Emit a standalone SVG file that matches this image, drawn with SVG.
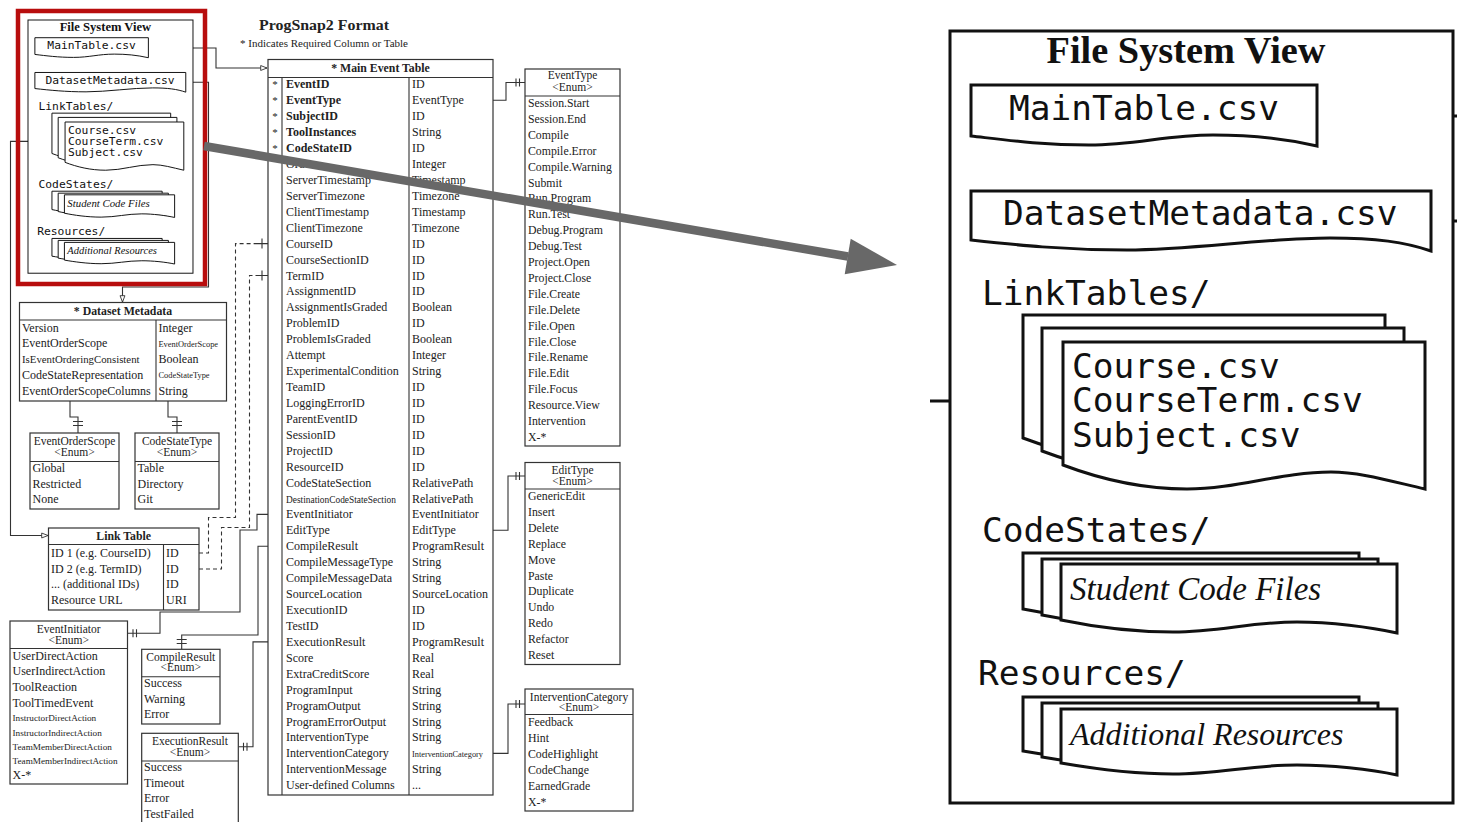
<svg xmlns="http://www.w3.org/2000/svg" xmlns:xlink="http://www.w3.org/1999/xlink" width="1457" height="822" viewBox="0 0 1457 822">
  <style>
    .ln{fill:none;stroke:#333;stroke-width:1.1}
    .dash{fill:none;stroke:#333;stroke-width:1.1;stroke-dasharray:4 3}
    .box{fill:#fff;stroke:#333;stroke-width:1.2}
    .sep{fill:none;stroke:#333;stroke-width:1.1}
    .t{font-family:"Liberation Serif","Times New Roman",serif;font-size:12px;fill:#222}
    .b{font-weight:bold}
    .hd{font-size:11.5px}
    .mid{text-anchor:middle}
    .fs{fill:#fff;stroke:#111;stroke-width:3}
    .mono{font-family:"DejaVu Sans Mono","Liberation Mono",monospace;font-size:34.5px;fill:#111}
    .it{font-family:"Liberation Serif","Times New Roman",serif;font-style:italic;font-size:33px;fill:#111}
  </style>
  <defs>
    <marker id="open-tri" viewBox="0 0 10 10" refX="10" refY="5" markerWidth="7" markerHeight="7" orient="auto" markerUnits="userSpaceOnUse">
      <path d="M1,1.5 L10,5 L1,8.5 Z" fill="#fff" stroke="#333" stroke-width="1.3"/>
    </marker>
    <!-- file system view artwork, drawn in its own local frame -->
    <g id="fsv-art">
      <rect class="fs" x="0" y="0" width="503" height="772"/>
      <text x="236" y="32" text-anchor="middle" textLength="279" lengthAdjust="spacingAndGlyphs" style="font-family:'Liberation Serif','Times New Roman',serif;font-weight:bold;font-size:37px;fill:#111">File System View</text>
      <path class="fs" d="M21,54 H367 V115 C332,107 298,104 263,104 C215,104 187,114 139,114 C91,114 56,109 21,105 Z"/>
      <text class="mono" x="59" y="89">MainTable.csv</text>
      <path class="fs" d="M21,160 H481 V220 C455,211 426,207 380,207 C316,207 241,219 177,219 C113,219 67,214 21,209 Z"/>
      <text class="mono" x="53" y="194">DatasetMetadata.csv</text>
      <text class="mono" x="32" y="274">LinkTables/</text>
      <path class="fs" transform="translate(-40,-27)" d="M113,311 H475 V458 C440,450 410,441 381,441 C330,441 288,458 237,458 C190,458 150,448 113,434 Z"/>
      <path class="fs" transform="translate(-21,-14)" d="M113,311 H475 V458 C440,450 410,441 381,441 C330,441 288,458 237,458 C190,458 150,448 113,434 Z"/>
      <path class="fs" d="M113,311 H475 V458 C440,450 410,441 381,441 C330,441 288,458 237,458 C190,458 150,448 113,434 Z"/>
      <text class="mono" x="122" y="347">Course.csv</text>
      <text class="mono" x="122" y="381">CourseTerm.csv</text>
      <text class="mono" x="122" y="416">Subject.csv</text>
      <text class="mono" x="32" y="511">CodeStates/</text>
      <path class="fs" transform="translate(-38,-11)" d="M111,533 H447 V602 C420,596 380,591 347,591 C300,591 270,601 223,601 C180,601 140,595 111,589 Z"/>
      <path class="fs" transform="translate(-19,-5)" d="M111,533 H447 V602 C420,596 380,591 347,591 C300,591 270,601 223,601 C180,601 140,595 111,589 Z"/>
      <path class="fs" d="M111,533 H447 V602 C420,596 380,591 347,591 C300,591 270,601 223,601 C180,601 140,595 111,589 Z"/>
      <text class="it" x="120" y="569">Student Code Files</text>
      <text class="mono" x="28" y="654">Resources/</text>
      <path class="fs" transform="translate(-38,-12)" d="M111,678 H447 V744 C420,738 380,734 347,734 C300,734 270,743 223,743 C180,743 140,737 111,732 Z"/>
      <path class="fs" transform="translate(-19,-6)" d="M111,678 H447 V744 C420,738 380,734 347,734 C300,734 270,743 223,743 C180,743 140,737 111,732 Z"/>
      <path class="fs" d="M111,678 H447 V744 C420,738 380,734 347,734 C300,734 270,743 223,743 C180,743 140,737 111,732 Z"/>
      <text class="it" x="120" y="714" style="font-size:32px">Additional Resources</text>
    </g>
  </defs>

  <rect width="1457" height="822" fill="#fff"/>

  <!-- heading -->
  <g id="heading">
    <text class="t b" x="259" y="30" textLength="130" lengthAdjust="spacingAndGlyphs" style="font-size:15.5px">ProgSnap2 Format</text>
    <text class="t" x="240" y="47" textLength="168" lengthAdjust="spacingAndGlyphs" style="font-size:10.6px">* Indicates Required Column or Table</text>
  </g>

  <!-- connectors -->
  <g id="connectors">
    <path class="ln" d="M148.4,48 H216 V68 H267" marker-end="url(#open-tri)"/>
    <path class="ln" d="M185.8,82.3 H208.5 V287 H122.5 V302" marker-end="url(#open-tri)"/>
    <path class="ln" d="M52,141.4 H10.5 V535.5 H48" marker-end="url(#open-tri)"/>
    <!-- metadata to its enums -->
    <path class="ln" d="M70,401 V417 H78 V433 M73,421.5 H83 M73,425.5 H83"/>
    <path class="ln" d="M168,401 V417 H177 V433 M172,421.5 H182 M172,425.5 H182"/>
    <!-- link table ids to main table -->
    <path class="dash" d="M199,553 H208.5 V517.5 H235.5 V243.6 H256"/>
    <path class="ln" d="M256,243.6 H268 M262,238.6 V248.6"/>
    <path class="dash" d="M199,569 H221.5 V527.5 H249.5 V275.5 H256"/>
    <path class="ln" d="M256,275.5 H268 M262,270.5 V280.5"/>
    <!-- main table to enums on the right -->
    <path class="ln" d="M493,100.2 H506 V82.5 H525 M516,78.5 V86.5 M519.5,78.5 V86.5"/>
    <path class="ln" d="M493,530.3 H508 V476 H525 M516,472 V480 M519.5,472 V480"/>
    <path class="ln" d="M493,753.4 H508 V704 H525 M516,700 V708 M519.5,700 V708"/>
    <!-- main table to enums on the left -->
    <path class="ln" d="M268,514.4 H257 V530 H240 V612 H160 V633.3 H127.5 M133,629.3 V637.3 M136.5,629.3 V637.3"/>
    <path class="ln" d="M268,546.3 H258 V635 H181.7 V649.3 M176.7,639.5 H186.7 M176.7,643.5 H186.7"/>
    <path class="ln" d="M268,641.9 H253 V746.7 H238.3 M243.5,742.7 V750.7 M247,742.7 V750.7"/>
    <!-- enlarged view links -->
    <path d="M1317,116 H1457 M1431,221 H1457 M930,401 H1023" fill="none" stroke="#111" stroke-width="3"/>
  </g>

  <!-- file system view, small -->
  <g id="fsv-small">
    <use href="#fsv-art" xlink:href="#fsv-art" transform="translate(28,20) scale(0.328)"/>
  </g>

  <!-- main event table -->
  <g id="main-event-table">
    <rect class="box" x="268" y="59.5" width="225" height="735.5"/>
    <path class="sep" d="M268,77.5 H493 M282,77.5 V795 M409,77.5 V795"/>
    <text class="t b mid" x="380.5" y="71.5" style="font-size:11.8px">* Main Event Table</text>
    <text class="t mid" style="font-size:11px"><tspan x="275" y="88.3">*</tspan><tspan x="275" y="104.2">*</tspan><tspan x="275" y="120.2">*</tspan><tspan x="275" y="136.1">*</tspan><tspan x="275" y="152">*</tspan></text>
    <text class="t b"><tspan x="286" y="88.3">EventID</tspan><tspan x="286" y="104.2">EventType</tspan><tspan x="286" y="120.2">SubjectID</tspan><tspan x="286" y="136.1">ToolInstances</tspan><tspan x="286" y="152">CodeStateID</tspan></text>
    <text class="t">
      <tspan x="286" y="167.9">Order</tspan>
      <tspan x="286" y="183.9">ServerTimestamp</tspan>
      <tspan x="286" y="199.8">ServerTimezone</tspan>
      <tspan x="286" y="215.7">ClientTimestamp</tspan>
      <tspan x="286" y="231.7">ClientTimezone</tspan>
      <tspan x="286" y="247.6">CourseID</tspan>
      <tspan x="286" y="263.5">CourseSectionID</tspan>
      <tspan x="286" y="279.5">TermID</tspan>
      <tspan x="286" y="295.4">AssignmentID</tspan>
      <tspan x="286" y="311.3">AssignmentIsGraded</tspan>
      <tspan x="286" y="327.3">ProblemID</tspan>
      <tspan x="286" y="343.2">ProblemIsGraded</tspan>
      <tspan x="286" y="359.1">Attempt</tspan>
      <tspan x="286" y="375">ExperimentalCondition</tspan>
      <tspan x="286" y="391">TeamID</tspan>
      <tspan x="286" y="406.9">LoggingErrorID</tspan>
      <tspan x="286" y="422.8">ParentEventID</tspan>
      <tspan x="286" y="438.8">SessionID</tspan>
      <tspan x="286" y="454.7">ProjectID</tspan>
      <tspan x="286" y="470.6">ResourceID</tspan>
      <tspan x="286" y="486.6">CodeStateSection</tspan>
      <tspan x="286" y="502.5" style="font-size:9.4px">DestinationCodeStateSection</tspan>
      <tspan x="286" y="518.4">EventInitiator</tspan>
      <tspan x="286" y="534.3">EditType</tspan>
      <tspan x="286" y="550.3">CompileResult</tspan>
      <tspan x="286" y="566.2">CompileMessageType</tspan>
      <tspan x="286" y="582.1">CompileMessageData</tspan>
      <tspan x="286" y="598.1">SourceLocation</tspan>
      <tspan x="286" y="614">ExecutionID</tspan>
      <tspan x="286" y="629.9">TestID</tspan>
      <tspan x="286" y="645.9">ExecutionResult</tspan>
      <tspan x="286" y="661.8">Score</tspan>
      <tspan x="286" y="677.7">ExtraCreditScore</tspan>
      <tspan x="286" y="693.6">ProgramInput</tspan>
      <tspan x="286" y="709.6">ProgramOutput</tspan>
      <tspan x="286" y="725.5">ProgramErrorOutput</tspan>
      <tspan x="286" y="741.4">InterventionType</tspan>
      <tspan x="286" y="757.4">InterventionCategory</tspan>
      <tspan x="286" y="773.3">InterventionMessage</tspan>
      <tspan x="286" y="789.2">User-defined Columns</tspan>
    </text>
    <text class="t">
      <tspan x="412" y="88.3">ID</tspan>
      <tspan x="412" y="104.2">EventType</tspan>
      <tspan x="412" y="120.2">ID</tspan>
      <tspan x="412" y="136.1">String</tspan>
      <tspan x="412" y="152">ID</tspan>
      <tspan x="412" y="167.9">Integer</tspan>
      <tspan x="412" y="183.9">Timestamp</tspan>
      <tspan x="412" y="199.8">Timezone</tspan>
      <tspan x="412" y="215.7">Timestamp</tspan>
      <tspan x="412" y="231.7">Timezone</tspan>
      <tspan x="412" y="247.6">ID</tspan>
      <tspan x="412" y="263.5">ID</tspan>
      <tspan x="412" y="279.5">ID</tspan>
      <tspan x="412" y="295.4">ID</tspan>
      <tspan x="412" y="311.3">Boolean</tspan>
      <tspan x="412" y="327.3">ID</tspan>
      <tspan x="412" y="343.2">Boolean</tspan>
      <tspan x="412" y="359.1">Integer</tspan>
      <tspan x="412" y="375">String</tspan>
      <tspan x="412" y="391">ID</tspan>
      <tspan x="412" y="406.9">ID</tspan>
      <tspan x="412" y="422.8">ID</tspan>
      <tspan x="412" y="438.8">ID</tspan>
      <tspan x="412" y="454.7">ID</tspan>
      <tspan x="412" y="470.6">ID</tspan>
      <tspan x="412" y="486.6">RelativePath</tspan>
      <tspan x="412" y="502.5">RelativePath</tspan>
      <tspan x="412" y="518.4">EventInitiator</tspan>
      <tspan x="412" y="534.3">EditType</tspan>
      <tspan x="412" y="550.3">ProgramResult</tspan>
      <tspan x="412" y="566.2">String</tspan>
      <tspan x="412" y="582.1">String</tspan>
      <tspan x="412" y="598.1">SourceLocation</tspan>
      <tspan x="412" y="614">ID</tspan>
      <tspan x="412" y="629.9">ID</tspan>
      <tspan x="412" y="645.9">ProgramResult</tspan>
      <tspan x="412" y="661.8">Real</tspan>
      <tspan x="412" y="677.7">Real</tspan>
      <tspan x="412" y="693.6">String</tspan>
      <tspan x="412" y="709.6">String</tspan>
      <tspan x="412" y="725.5">String</tspan>
      <tspan x="412" y="741.4">String</tspan>
      <tspan x="412" y="757.4" style="font-size:8.3px">InterventionCategory</tspan>
      <tspan x="412" y="773.3">String</tspan>
      <tspan x="412" y="789.2">...</tspan>
    </text>
  </g>

  <!-- event type enum -->
  <g id="enum-event-type">
    <rect class="box" x="525" y="69" width="95" height="377"/>
    <path class="sep" d="M525,96 H620"/>
    <text class="t hd mid"><tspan x="572.5" y="79">EventType</tspan><tspan x="572.5" y="91">&lt;Enum&gt;</tspan></text>
    <text class="t" style="font-size:11.8px">
      <tspan x="528" y="107">Session.Start</tspan>
      <tspan x="528" y="122.9">Session.End</tspan>
      <tspan x="528" y="138.8">Compile</tspan>
      <tspan x="528" y="154.7">Compile.Error</tspan>
      <tspan x="528" y="170.6">Compile.Warning</tspan>
      <tspan x="528" y="186.5">Submit</tspan>
      <tspan x="528" y="202.4">Run.Program</tspan>
      <tspan x="528" y="218.3">Run.Test</tspan>
      <tspan x="528" y="234.2">Debug.Program</tspan>
      <tspan x="528" y="250.1">Debug.Test</tspan>
      <tspan x="528" y="266">Project.Open</tspan>
      <tspan x="528" y="281.9">Project.Close</tspan>
      <tspan x="528" y="297.8">File.Create</tspan>
      <tspan x="528" y="313.7">File.Delete</tspan>
      <tspan x="528" y="329.6">File.Open</tspan>
      <tspan x="528" y="345.5">File.Close</tspan>
      <tspan x="528" y="361.4">File.Rename</tspan>
      <tspan x="528" y="377.3">File.Edit</tspan>
      <tspan x="528" y="393.2">File.Focus</tspan>
      <tspan x="528" y="409.1">Resource.View</tspan>
      <tspan x="528" y="425">Intervention</tspan>
      <tspan x="528" y="440.9">X-*</tspan>
    </text>
  </g>

  <!-- edit type enum -->
  <g id="enum-edit-type">
    <rect class="box" x="525" y="462.5" width="95" height="202"/>
    <path class="sep" d="M525,489 H620"/>
    <text class="t hd mid"><tspan x="572.5" y="474">EditType</tspan><tspan x="572.5" y="485">&lt;Enum&gt;</tspan></text>
    <text class="t" style="font-size:11.8px">
      <tspan x="528" y="500">GenericEdit</tspan>
      <tspan x="528" y="515.9">Insert</tspan>
      <tspan x="528" y="531.8">Delete</tspan>
      <tspan x="528" y="547.7">Replace</tspan>
      <tspan x="528" y="563.6">Move</tspan>
      <tspan x="528" y="579.5">Paste</tspan>
      <tspan x="528" y="595.4">Duplicate</tspan>
      <tspan x="528" y="611.3">Undo</tspan>
      <tspan x="528" y="627.2">Redo</tspan>
      <tspan x="528" y="643.1">Refactor</tspan>
      <tspan x="528" y="659">Reset</tspan>
    </text>
  </g>

  <!-- intervention category enum -->
  <g id="enum-intervention-category">
    <rect class="box" x="525" y="689" width="108" height="122"/>
    <path class="sep" d="M525,714.5 H633"/>
    <text class="t hd mid"><tspan x="579" y="700.5">InterventionCategory</tspan><tspan x="579" y="711">&lt;Enum&gt;</tspan></text>
    <text class="t" style="font-size:11.8px">
      <tspan x="528" y="726">Feedback</tspan>
      <tspan x="528" y="741.9">Hint</tspan>
      <tspan x="528" y="757.8">CodeHighlight</tspan>
      <tspan x="528" y="773.7">CodeChange</tspan>
      <tspan x="528" y="789.6">EarnedGrade</tspan>
      <tspan x="528" y="805.5">X-*</tspan>
    </text>
  </g>

  <!-- dataset metadata table -->
  <g id="dataset-metadata">
    <rect class="box" x="19.5" y="302.5" width="207" height="98.5"/>
    <path class="sep" d="M19.5,320 H226.5 M156,320 V401"/>
    <text class="t b mid" x="123" y="315" style="font-size:11.8px">* Dataset Metadata</text>
    <text class="t">
      <tspan x="22" y="331.5">Version</tspan>
      <tspan x="22" y="347.4">EventOrderScope</tspan>
      <tspan x="22" y="363.3" style="font-size:10.8px">IsEventOrderingConsistent</tspan>
      <tspan x="22" y="379.2">CodeStateRepresentation</tspan>
      <tspan x="22" y="395.1">EventOrderScopeColumns</tspan>
    </text>
    <text class="t">
      <tspan x="158.5" y="331.5">Integer</tspan>
      <tspan x="158.5" y="346.5" style="font-size:8.4px">EventOrderScope</tspan>
      <tspan x="158.5" y="363.3">Boolean</tspan>
      <tspan x="158.5" y="378.3" style="font-size:8.4px">CodeStateType</tspan>
      <tspan x="158.5" y="395.1">String</tspan>
    </text>
  </g>

  <!-- event order scope enum -->
  <g id="enum-event-order-scope">
    <rect class="box" x="30" y="433" width="89" height="76"/>
    <path class="sep" d="M30,461.5 H119"/>
    <text class="t hd mid"><tspan x="74.5" y="445">EventOrderScope</tspan><tspan x="74.5" y="456">&lt;Enum&gt;</tspan></text>
    <text class="t"><tspan x="32.5" y="472">Global</tspan><tspan x="32.5" y="487.5">Restricted</tspan><tspan x="32.5" y="503">None</tspan></text>
  </g>

  <!-- code state type enum -->
  <g id="enum-code-state-type">
    <rect class="box" x="135" y="433" width="84" height="76"/>
    <path class="sep" d="M135,461.5 H219"/>
    <text class="t hd mid"><tspan x="177" y="445">CodeStateType</tspan><tspan x="177" y="456">&lt;Enum&gt;</tspan></text>
    <text class="t"><tspan x="137.5" y="472">Table</tspan><tspan x="137.5" y="487.5">Directory</tspan><tspan x="137.5" y="503">Git</tspan></text>
  </g>

  <!-- link table -->
  <g id="link-table">
    <rect class="box" x="48.5" y="528" width="150.5" height="82"/>
    <path class="sep" d="M48.5,544.5 H199 M163.5,544.5 V610"/>
    <text class="t b mid" x="123.7" y="540" style="font-size:11.8px">Link Table</text>
    <text class="t"><tspan x="51" y="556.7">ID 1 (e.g. CourseID)</tspan><tspan x="51" y="572.5">ID 2 (e.g. TermID)</tspan><tspan x="51" y="588.4">... (additional IDs)</tspan><tspan x="51" y="604.3">Resource URL</tspan></text>
    <text class="t"><tspan x="166" y="556.7">ID</tspan><tspan x="166" y="572.5">ID</tspan><tspan x="166" y="588.4">ID</tspan><tspan x="166" y="604.3">URI</tspan></text>
  </g>

  <!-- event initiator enum -->
  <g id="enum-event-initiator">
    <rect class="box" x="10" y="621" width="117.5" height="163"/>
    <path class="sep" d="M10,648.5 H127.5"/>
    <text class="t hd mid"><tspan x="68.7" y="633">EventInitiator</tspan><tspan x="68.7" y="644">&lt;Enum&gt;</tspan></text>
    <text class="t">
      <tspan x="12.5" y="659.5">UserDirectAction</tspan>
      <tspan x="12.5" y="675">UserIndirectAction</tspan>
      <tspan x="12.5" y="691">ToolReaction</tspan>
      <tspan x="12.5" y="706.5">ToolTimedEvent</tspan>
      <tspan x="12.5" y="721" style="font-size:9.2px">InstructorDirectAction</tspan>
      <tspan x="12.5" y="735.5" style="font-size:9.2px">InstructorIndirectAction</tspan>
      <tspan x="12.5" y="749.5" style="font-size:9.2px">TeamMemberDirectAction</tspan>
      <tspan x="12.5" y="763.5" style="font-size:9.2px">TeamMemberIndirectAction</tspan>
      <tspan x="12.5" y="779">X-*</tspan>
    </text>
  </g>

  <!-- compile result enum -->
  <g id="enum-compile-result">
    <rect class="box" x="141.7" y="649.3" width="78.3" height="74.7"/>
    <path class="sep" d="M141.7,676.7 H220"/>
    <text class="t hd mid"><tspan x="180.8" y="660.5">CompileResult</tspan><tspan x="180.8" y="671">&lt;Enum&gt;</tspan></text>
    <text class="t"><tspan x="144" y="687">Success</tspan><tspan x="144" y="702.5">Warning</tspan><tspan x="144" y="718.3">Error</tspan></text>
  </g>

  <!-- execution result enum -->
  <g id="enum-execution-result">
    <rect class="box" x="141.7" y="733.3" width="96.6" height="100"/>
    <path class="sep" d="M141.7,761 H238.3"/>
    <text class="t hd mid"><tspan x="190" y="745">ExecutionResult</tspan><tspan x="190" y="756">&lt;Enum&gt;</tspan></text>
    <text class="t"><tspan x="144" y="771">Success</tspan><tspan x="144" y="786.5">Timeout</tspan><tspan x="144" y="802">Error</tspan><tspan x="144" y="817.5">TestFailed</tspan></text>
  </g>

  <!-- highlight frame around the small file system view -->
  <g id="highlight">
    <rect x="18" y="11" width="187" height="273" fill="none" stroke="#b80d0d" stroke-width="4.5"/>
  </g>

  <!-- file system view, enlarged -->
  <g id="fsv-zoom">
    <use href="#fsv-art" xlink:href="#fsv-art" transform="translate(950,31)"/>
  </g>

  <!-- pointer from the small view to the enlarged one -->
  <g id="zoom-pointer">
    <path d="M204,146 L848,256.5" stroke="#686868" stroke-width="8.5" fill="none"/>
    <polygon points="897,265 850.7,238.8 844.7,274.2" fill="#686868"/>
  </g>
</svg>
